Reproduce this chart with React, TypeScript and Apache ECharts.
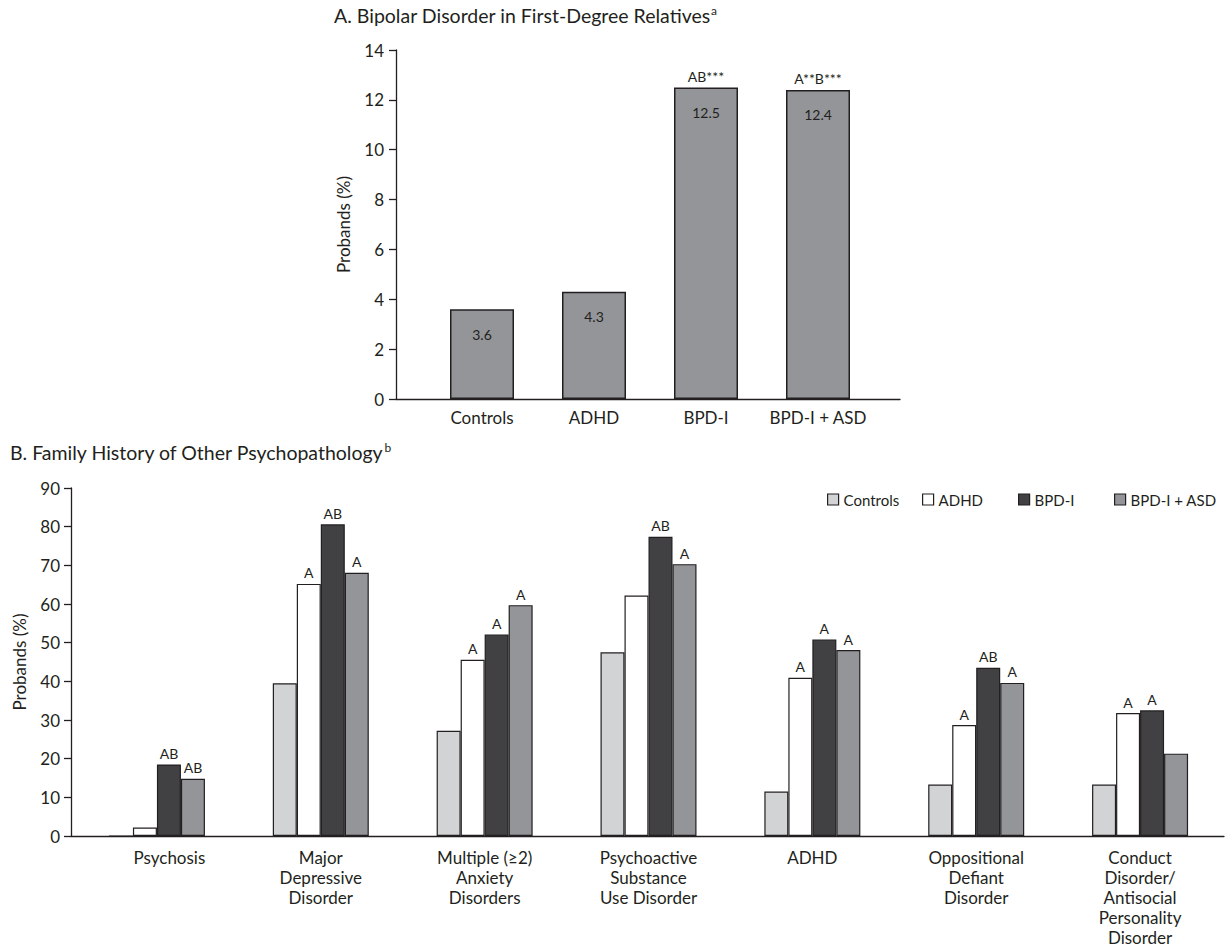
import React, { useEffect, useRef } from "react";
import * as echarts from "echarts";

// ---- Panel A data ----
const topCategories = ["Controls", "ADHD", "BPD-I", "BPD-I + ASD"];
const topValues = [3.6, 4.3, 12.5, 12.4];
const topNotes = ["", "", "AB***", "A**B***"];

// ---- Panel B data ----
const bottomCategories = [
  "Psychosis",
  "Major\nDepressive\nDisorder",
  "Multiple (≥2)\nAnxiety\nDisorders",
  "Psychoactive\nSubstance\nUse Disorder",
  "ADHD",
  "Oppositional\nDefiant\nDisorder",
  "Conduct\nDisorder/\nAntisocial\nPersonality\nDisorder",
];
const groupNames = ["Controls", "ADHD", "BPD-I", "BPD-I + ASD"];
const controlsValues = [0, 39.5, 27.2, 47.5, 11.5, 13.3, 13.3];
const adhdValues = [2.2, 65.2, 45.6, 62.2, 40.9, 28.7, 31.8];
const bpdValues = [18.5, 80.6, 52.1, 77.4, 50.8, 43.5, 32.5];
const asdValues = [14.8, 68.1, 59.7, 70.3, 48.1, 39.6, 21.3];
const controlsNotes = ["", "", "", "", "", "", ""];
const adhdNotes = ["", "A", "A", "", "A", "A", "A"];
const bpdNotes = ["AB", "AB", "A", "AB", "A", "AB", "A"];
const asdNotes = ["AB", "A", "A", "A", "A", "A", ""];

const INK = "#231f20";
const FONT = "Lato";
const groupColors = ["#d1d3d4", "#ffffff", "#414042", "#939598"];

export default function App() {
  const ref = useRef<HTMLDivElement>(null);

  useEffect(() => {
    if (!ref.current) return;
    const chart = echarts.init(ref.current, null, { renderer: "svg" });

    const bottomSeriesData = [controlsValues, adhdValues, bpdValues, asdValues];
    const bottomNotes = [controlsNotes, adhdNotes, bpdNotes, asdNotes];

    const titleRich = {
      m: { fontSize: 19.5, fontFamily: FONT, color: INK, fontWeight: "normal", lineHeight: 22 },
      s: { fontSize: 12, fontFamily: FONT, color: INK, fontWeight: "normal", verticalAlign: "top", lineHeight: 22 },
    };

    const option: any = {
      animation: false,
      backgroundColor: "#ffffff",
      textStyle: { fontFamily: FONT, color: INK },
      title: [
        {
          left: 334,
          top: 4,
          padding: 0,
          text: "{m|A. Bipolar Disorder in First-Degree Relatives}{s|a}",
          textStyle: { fontWeight: "normal", rich: titleRich },
        },
        {
          left: 10,
          top: 441,
          padding: 0,
          text: "{m|B. Family History of Other Psychopathology}{s|b}",
          textStyle: { fontWeight: "normal", rich: titleRich },
        },
      ],
      legend: groupNames.map((name, i) => ({
        data: [name],
        left: [827, 922, 1018, 1114][i],
        top: 492,
        padding: 0,
        itemWidth: 11,
        itemHeight: 11,
        icon: "rect",
        itemStyle: { borderColor: INK, borderWidth: 1.2 },
        textStyle: { fontSize: 15, fontFamily: FONT, color: INK },
        selectedMode: false,
      })),
      grid: [
        { left: 396, top: 50, width: 504, height: 349 },
        { left: 426, top: 50, width: 448, height: 349 },
        { left: 71, top: 488, width: 1153, height: 348 },
        { left: 75, top: 488, width: 1147, height: 348 },
      ],
      xAxis: [
        {
          gridIndex: 0,
          type: "value",
          min: 0,
          max: 1,
          axisLine: { show: true, onZero: false, lineStyle: { color: INK, width: 1.3 } },
          axisTick: { show: false },
          axisLabel: { show: false },
          splitLine: { show: false },
        },
        {
          gridIndex: 1,
          type: "category",
          data: topCategories,
          axisLine: { show: false },
          axisTick: { show: false },
          axisLabel: { fontSize: 17, color: INK, margin: 10, interval: 0, fontFamily: FONT },
        },
        {
          gridIndex: 2,
          type: "value",
          min: 0,
          max: 1,
          axisLine: { show: true, onZero: false, lineStyle: { color: INK, width: 1.3 } },
          axisTick: { show: false },
          axisLabel: { show: false },
          splitLine: { show: false },
        },
        {
          gridIndex: 3,
          type: "category",
          data: bottomCategories,
          axisLine: { show: false },
          axisTick: { show: false },
          axisLabel: {
            fontSize: 17,
            color: INK,
            margin: 11,
            lineHeight: 20,
            interval: 0,
            fontFamily: FONT,
            formatter: (v: string) => (v === "Psychosis" ? "{p|" + v + "}" : v),
            rich: { p: { fontSize: 17, fontFamily: FONT, color: INK, lineHeight: 20, padding: [0, 0, 0, 25] } },
          },
        },
      ],
      yAxis: [
        {
          gridIndex: 0,
          type: "value",
          min: 0,
          max: 14,
          interval: 2,
          name: "Probands (%)",
          nameLocation: "middle",
          nameGap: 44,
          nameTextStyle: { fontSize: 17, color: INK, fontFamily: FONT },
          axisLine: { show: true, onZero: false, lineStyle: { color: INK, width: 1.3 } },
          axisTick: { show: true, length: 7, lineStyle: { color: INK, width: 1.3 } },
          axisLabel: { fontSize: 17, color: INK, margin: 12, fontFamily: FONT },
          splitLine: { show: false },
        },
        { gridIndex: 1, type: "value", min: 0, max: 14, show: false },
        {
          gridIndex: 2,
          type: "value",
          min: 0,
          max: 90,
          interval: 10,
          name: "Probands (%)",
          nameLocation: "middle",
          nameGap: 43,
          nameTextStyle: { fontSize: 17, color: INK, fontFamily: FONT },
          axisLine: { show: true, onZero: false, lineStyle: { color: INK, width: 1.3 } },
          axisTick: { show: true, length: 7, lineStyle: { color: INK, width: 1.3 } },
          axisLabel: { fontSize: 17, color: INK, margin: 11, fontFamily: FONT },
          splitLine: { show: false },
        },
        { gridIndex: 3, type: "value", min: 0, max: 90, show: false },
      ],
      series: [
        {
          type: "bar",
          name: "topValues",
          xAxisIndex: 1,
          yAxisIndex: 1,
          data: topValues,
          barWidth: 64,
          itemStyle: { color: "#939598", borderColor: INK, borderWidth: 1.5 },
          label: {
            show: true,
            position: "insideTop",
            distance: 18,
            fontSize: 14,
            color: INK,
            fontFamily: FONT,
            formatter: (p: any) => p.value.toFixed(1),
          },
        },
        {
          type: "bar",
          name: "topNotes",
          xAxisIndex: 1,
          yAxisIndex: 1,
          data: topValues,
          barWidth: 64,
          barGap: "-100%",
          itemStyle: { color: "rgba(0,0,0,0)", borderWidth: 0 },
          label: {
            show: true,
            position: "top",
            distance: 4,
            fontSize: 14,
            color: INK,
            fontFamily: FONT,
            formatter: (p: any) => topNotes[p.dataIndex],
          },
          z: 3,
        },
        ...groupNames.map((name, i) => ({
          type: "bar",
          name,
          xAxisIndex: 3,
          yAxisIndex: 3,
          data: bottomSeriesData[i],
          barWidth: 24,
          barGap: "0%",
          itemStyle: { color: groupColors[i], borderColor: INK, borderWidth: 1.2 },
          label: {
            show: true,
            position: "top",
            distance: 4,
            fontSize: 14,
            color: INK,
            fontFamily: FONT,
            formatter: (p: any) => bottomNotes[i][p.dataIndex],
          },
        })),
      ],
    };

    chart.setOption(option);
    return () => chart.dispose();
  }, []);

  return (
    <div
      ref={ref}
      style={{ position: "absolute", left: 0, top: 0, width: 1228, height: 948 }}
    />
  );
}
